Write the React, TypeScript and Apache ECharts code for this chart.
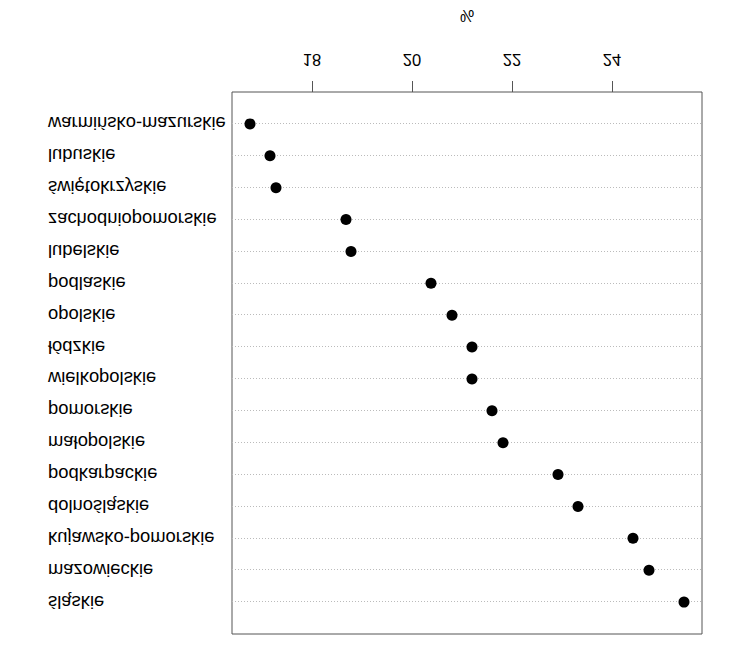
import React, { useEffect, useRef } from "react";
import * as echarts from "echarts";

// Categories listed from bottom row to top row of the (unflipped) dot chart
const regions = [
  "warmińsko-mazurskie",
  "lubuskie",
  "świętokrzyskie",
  "zachodniopomorskie",
  "lubelskie",
  "podlaskie",
  "opolskie",
  "łódzkie",
  "wielkopolskie",
  "pomorskie",
  "małopolskie",
  "podkarpackie",
  "dolnośląskie",
  "kujawsko-pomorskie",
  "mazowieckie",
  "śląskie",
];
const values = [
  16.76, 17.16, 17.28, 18.68, 18.78, 20.38, 20.8, 21.2, 21.2, 21.6, 21.82,
  22.92, 23.32, 24.42, 24.74, 25.44,
];
const tickValues = [18, 20, 22, 24];
const axisName = "%";

export default function App() {
  const ref = useRef<HTMLDivElement>(null);
  useEffect(() => {
    if (!ref.current) return;
    const chart = echarts.init(ref.current, null, { renderer: "svg" });
    const cats = ["", ...regions, ""];
    const font = "'Liberation Sans', Arial, Helvetica, sans-serif";
    chart.setOption({
      animation: false,
      backgroundColor: "#ffffff",
      grid: {
        left: 232,
        right: 48,
        top: 19,
        bottom: 92,
        show: true,
        borderColor: "#555555",
        borderWidth: 1,
        backgroundColor: "transparent",
      },
      xAxis: {
        type: "value",
        min: 16.4,
        max: 25.8,
        name: axisName,
        nameLocation: "middle",
        nameGap: 69,
        nameTextStyle: { color: "#000", fontSize: 16, fontFamily: font },
        axisLine: { show: false },
        axisTick: {
          show: true,
          customValues: tickValues,
          length: 11,
          lineStyle: { color: "#555555", width: 1 },
        },
        axisLabel: {
          customValues: tickValues,
          margin: 24,
          color: "#000",
          fontSize: 16.5,
          fontFamily: font,
        },
        splitLine: { show: false },
      },
      yAxis: {
        type: "category",
        data: cats,
        boundaryGap: false,
        axisLine: { show: false },
        axisTick: { show: false },
        axisLabel: {
          align: "left",
          margin: 184,
          color: "#000",
          fontSize: 18.4,
          fontFamily: font,
          interval: 0,
        },
        splitLine: {
          show: true,
          interval: (_i: number, v: string) => v !== "",
          lineStyle: { color: "#bbbbbb", type: [1, 2], width: 1 },
        },
      },
      series: [
        {
          type: "scatter",
          symbol: "circle",
          symbolSize: 11,
          itemStyle: { color: "#000000", opacity: 1 },
          data: regions.map((r, i) => [values[i], r]),
        },
      ],
    });
    return () => chart.dispose();
  }, []);
  return (
    <div
      style={{
        position: "absolute",
        left: 0,
        top: 0,
        width: 750,
        height: 653,
        transform: "scaleY(-1)",
        background: "#fff",
      }}
    >
      <div ref={ref} style={{ width: 750, height: 653 }} />
    </div>
  );
}
